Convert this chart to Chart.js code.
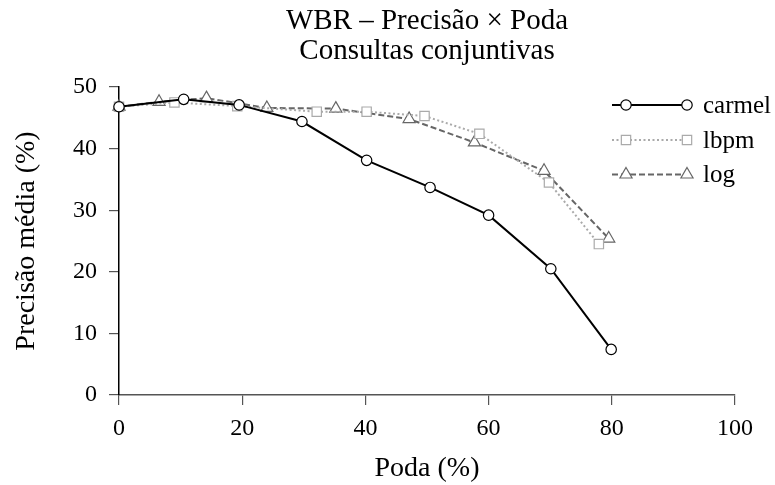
<!DOCTYPE html>
<html>
<head>
<meta charset="utf-8">
<script src="https://cdn.jsdelivr.net/npm/chart.js@4/dist/chart.umd.min.js"></script>
<style>
html,body{margin:0;padding:0;background:#fff;}
canvas{display:block;}
</style>
</head>
<body>
<canvas id="c" width="775" height="485"></canvas>
<script>
// ---- data ----
const seriesNames = ["carmel", "lbpm", "log"];
const carmelX = [0, 10.5, 19.5, 29.7, 40.2, 50.5, 60, 70.1, 79.9];
const carmelY = [46.8, 48.0, 47.1, 44.4, 38.1, 33.7, 29.2, 20.5, 7.4];
const lbpmX = [0, 9, 19.2, 32.1, 40.2, 49.6, 58.5, 69.8, 77.9];
const lbpmY = [46.8, 47.5, 46.9, 46.0, 46.0, 45.3, 42.4, 34.5, 24.5];
const logX = [0, 6.5, 14.2, 24, 35.2, 47.1, 57.7, 69, 79.5];
const logY = [46.8, 47.6, 48.2, 46.6, 46.5, 44.8, 41.0, 36.4, 25.4];
const xTicks = [0, 20, 40, 60, 80, 100];
const yTicks = [0, 10, 20, 30, 40, 50];
const titleLines = ["WBR \u2013 Precis\u00e3o \u00d7 Poda", "Consultas conjuntivas"];
const xTitle = "Poda (%)";
const yTitle = "Precis\u00e3o m\u00e9dia (%)";

const FONT = "'Liberation Serif', 'Times New Roman', serif";
const pts = (xs, ys) => xs.map((x, i) => ({x: x, y: ys[i]}));

const styles = [
  {color:'#000000', width:2, dash:[], point:'circle', radius:5.2},
  {color:'#aaaaaa', width:2, dash:[2,2.5], point:'rect', radius:6.6},
  {color:'#666666', width:2, dash:[6,3], point:'triangle', radius:7}
];
const dataSets = [pts(carmelX, carmelY), pts(lbpmX, lbpmY), pts(logX, logY)];

const legendPlugin = {
  id: 'customLegend',
  afterDraw(chart) {
    const ctx = chart.ctx;
    const x0 = 612, x1 = 692, m0 = 626, m1 = 687, tx = 703;
    const ys = [105, 140, 174.5];
    chart.data.datasets.forEach((ds, i) => {
      const y = ys[i];
      ctx.save();
      ctx.strokeStyle = ds.borderColor;
      ctx.lineWidth = ds.borderWidth;
      ctx.setLineDash(ds.borderDash || []);
      ctx.beginPath();
      ctx.moveTo(x0, y); ctx.lineTo(x1, y);
      ctx.stroke();
      ctx.setLineDash([]);
      const opt = {pointStyle: ds.pointStyle, radius: ds.pointRadius, borderWidth: ds.pointBorderWidth, rotation: 0};
      ctx.fillStyle = '#fff';
      ctx.strokeStyle = ds.pointBorderColor;
      ctx.lineWidth = ds.pointBorderWidth;
      Chart.helpers.drawPoint(ctx, opt, m0, y);
      Chart.helpers.drawPoint(ctx, opt, m1, y);
      ctx.fillStyle = '#000';
      ctx.font = "25px " + FONT;
      ctx.textAlign = 'left';
      ctx.textBaseline = 'middle';
      ctx.fillText(ds.label, tx, y + 1);
      ctx.restore();
    });
  }
};

new Chart(document.getElementById('c'), {
  type: 'line',
  data: {
    datasets: seriesNames.map((n, i) => ({
      label: n,
      data: dataSets[i],
      borderColor: styles[i].color,
      borderWidth: styles[i].width,
      borderDash: styles[i].dash,
      pointStyle: styles[i].point,
      pointRadius: styles[i].radius,
      pointBorderWidth: 1.2,
      pointBackgroundColor: '#ffffff',
      pointBorderColor: styles[i].color,
      fill: false,
      tension: 0,
      clip: false
    }))
  },
  options: {
    responsive: false,
    animation: false,
    layout: {padding: {left: 0, right: 40, top: 0, bottom: 0}},
    plugins: {
      legend: {display: false},
      tooltip: {enabled: false},
      title: {
        display: true,
        text: titleLines,
        fullSize: false,
        color: '#000',
        font: {family: FONT, size: 29, weight: 'normal', lineHeight: 1.035},
        padding: {top: 6.7, bottom: 20.3}
      }
    },
    scales: {
      x: {
        type: 'linear',
        min: 0, max: 100,
        afterBuildTicks: s => { s.ticks = xTicks.map(v => ({value: v})); },
        afterFit: s => { s.height = 90; },
        ticks: {color: '#000', font: {family: FONT, size: 24}, padding: 9, maxRotation: 0},
        grid: {display: true, drawOnChartArea: false, drawTicks: true, tickLength: 10, color: '#555', lineWidth: 1.2},
        border: {display: true, color: '#555', width: 1.5},
        title: {display: true, text: xTitle, color: '#000', font: {family: FONT, size: 28}, padding: {top: 0, bottom: 0}}
      },
      y: {
        type: 'linear',
        min: 0, max: 50,
        afterBuildTicks: s => { s.ticks = yTicks.map(v => ({value: v})); },
        afterFit: s => { s.width = 119; },
        ticks: {color: '#000', font: {family: FONT, size: 24}, padding: 12},
        grid: {display: true, drawOnChartArea: false, drawTicks: true, tickLength: 10, color: '#555', lineWidth: 1.2},
        border: {display: true, color: '#000', width: 1.5},
        title: {display: true, text: yTitle, color: '#000', font: {family: FONT, size: 28}, padding: {top: 10, bottom: 0}}
      }
    }
  },
  plugins: [legendPlugin]
});
</script>
</body>
</html>
